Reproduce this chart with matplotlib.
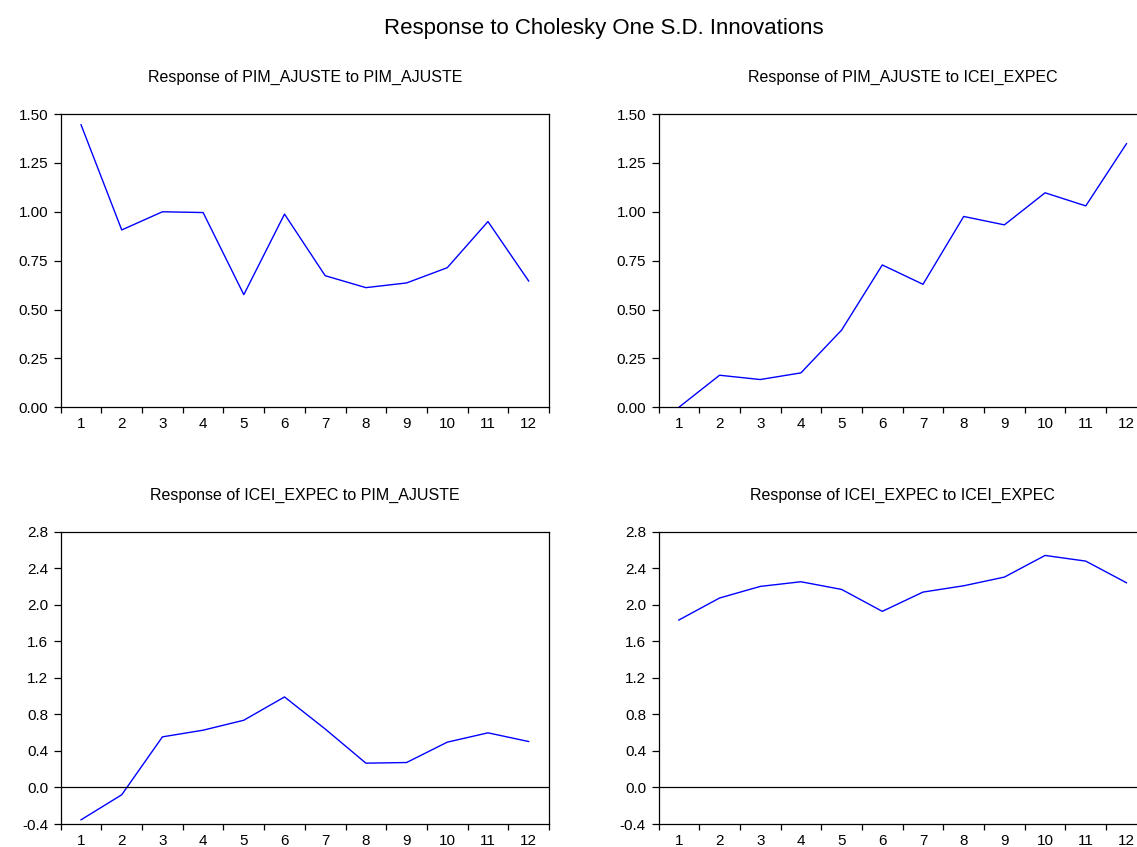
import matplotlib
matplotlib.use("Agg")
import matplotlib.pyplot as plt
from matplotlib.ticker import FixedLocator, FixedFormatter, NullFormatter

plt.rcParams['font.family'] = ['Liberation Sans', 'DejaVu Sans']

periods = list(range(1, 13))

pim_to_pim = [1.445, 0.907, 1.000, 0.996, 0.576, 0.988, 0.673, 0.612, 0.636, 0.714, 0.950, 0.646]
pim_to_icei = [0.000, 0.164, 0.142, 0.176, 0.395, 0.728, 0.629, 0.976, 0.933, 1.097, 1.030, 1.348]
icei_to_pim = [-0.354, -0.080, 0.554, 0.627, 0.736, 0.991, 0.640, 0.266, 0.273, 0.496, 0.598, 0.503]
icei_to_icei = [1.833, 2.074, 2.201, 2.252, 2.168, 1.928, 2.139, 2.208, 2.303, 2.540, 2.478, 2.241]

titles = [
    "Response of PIM_AJUSTE to PIM_AJUSTE",
    "Response of PIM_AJUSTE to ICEI_EXPEC",
    "Response of ICEI_EXPEC to PIM_AJUSTE",
    "Response of ICEI_EXPEC to ICEI_EXPEC",
]
top_yticks = [0.00, 0.25, 0.50, 0.75, 1.00, 1.25, 1.50]
top_ylabels = ["0.00", "0.25", "0.50", "0.75", "1.00", "1.25", "1.50"]
bot_yticks = [-0.4, 0.0, 0.4, 0.8, 1.2, 1.6, 2.0, 2.4, 2.8]
bot_ylabels = ["-0.4", "0.0", "0.4", "0.8", "1.2", "1.6", "2.0", "2.4", "2.8"]

W, H = 1137, 847
fig = plt.figure(figsize=(W / 100, H / 100), dpi=100)

def px_axes(left, right, top, bottom):
    return fig.add_axes([left / W, 1 - bottom / H, (right - left) / W, (bottom - top) / H])

panels = [
    (px_axes(60.7, 549, 114, 407.3), pim_to_pim, top_yticks, top_ylabels, (0.0, 1.5), False),
    (px_axes(658.5, 1146.8, 114, 407.3), pim_to_icei, top_yticks, top_ylabels, (0.0, 1.5), False),
    (px_axes(60.7, 549, 531.7, 824), icei_to_pim, bot_yticks, bot_ylabels, (-0.4, 2.8), True),
    (px_axes(658.5, 1146.8, 531.7, 824), icei_to_icei, bot_yticks, bot_ylabels, (-0.4, 2.8), True),
]

for (ax, values, yt, yl, ylim, zero_line), title in zip(panels, titles):
    ax.plot(periods, values, color="#0000FF", linewidth=1.0)
    if zero_line:
        ax.axhline(0.0, color="black", linewidth=0.9)
    ax.set_xlim(0.5, 12.5)
    ax.set_ylim(*ylim)
    # category boundaries carry the tick marks, centres carry the labels
    ax.xaxis.set_major_locator(FixedLocator([i + 0.5 for i in range(0, 13)]))
    ax.xaxis.set_major_formatter(NullFormatter())
    ax.xaxis.set_minor_locator(FixedLocator(periods))
    ax.xaxis.set_minor_formatter(FixedFormatter([str(p) for p in periods]))
    ax.tick_params(axis="x", which="major", direction="out", length=4.5, width=0.9)
    ax.tick_params(axis="x", which="minor", length=0, pad=7, labelsize=11)
    ax.set_yticks(yt)
    ax.set_yticklabels(yl)
    ax.tick_params(axis="y", direction="out", length=5, width=0.9, pad=4, labelsize=11)
    for s in ax.spines.values():
        s.set_linewidth(0.9)
    ax.set_title(title, fontsize=11.5, pad=23)

fig.text(604 / W, 1 - 34 / H, "Response to Cholesky One S.D. Innovations",
         ha="center", va="baseline", fontsize=16)

fig.savefig("out.png", dpi=100)
